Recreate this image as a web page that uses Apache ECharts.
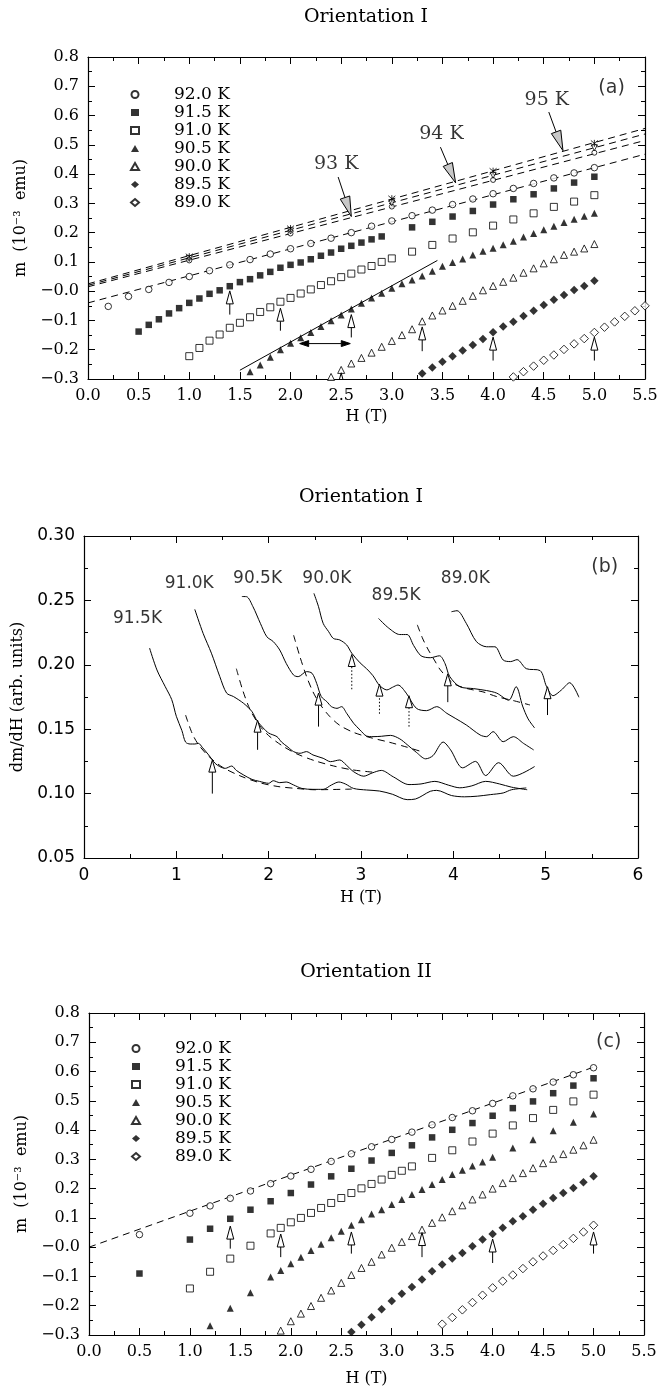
<!DOCTYPE html>
<html><head><meta charset="utf-8">
<script src="https://cdn.jsdelivr.net/npm/echarts@6/dist/echarts.min.js"></script>
<style>html,body{margin:0;padding:0;background:#fff}#c{width:667px;height:1391px}</style>
</head><body><div id="c"></div><script>
// ---------------- Panel (a): Orientation I, m vs H ----------------
const a92_0 = [[0.2,-0.052],[0.4,-0.018],[0.6,0.006],[0.8,0.030],[1.0,0.050],[1.2,0.070],[1.4,0.090],[1.6,0.108],[1.8,0.127],[2.0,0.145],[2.2,0.163],[2.4,0.181],[2.6,0.200],[2.8,0.222],[3.0,0.240],[3.2,0.258],[3.4,0.277],[3.6,0.296],[3.8,0.315],[4.0,0.333],[4.2,0.351],[4.4,0.368],[4.6,0.387],[4.8,0.404],[5.0,0.422]];
const a91_5 = [[0.5,-0.138],[0.6,-0.115],[0.7,-0.096],[0.8,-0.076],[0.9,-0.058],[1.0,-0.040],[1.1,-0.025],[1.2,-0.009],[1.3,0.003],[1.4,0.017],[1.5,0.031],[1.6,0.041],[1.7,0.054],[1.8,0.066],[1.9,0.080],[2.0,0.090],[2.1,0.098],[2.2,0.109],[2.3,0.121],[2.4,0.132],[2.5,0.145],[2.6,0.155],[2.7,0.166],[2.8,0.177],[2.9,0.187],[3.2,0.218],[3.4,0.237],[3.6,0.255],[3.8,0.274],[4.0,0.296],[4.2,0.314],[4.4,0.331],[4.6,0.351],[4.8,0.371],[5.0,0.391]];
const a91_0 = [[1.0,-0.222],[1.1,-0.194],[1.2,-0.169],[1.3,-0.148],[1.4,-0.125],[1.5,-0.108],[1.6,-0.089],[1.7,-0.071],[1.8,-0.055],[1.9,-0.036],[2.0,-0.023],[2.1,-0.008],[2.2,0.006],[2.3,0.021],[2.4,0.034],[2.5,0.048],[2.6,0.060],[2.7,0.074],[2.8,0.086],[2.9,0.100],[3.0,0.112],[3.2,0.135],[3.4,0.158],[3.6,0.180],[3.8,0.201],[4.0,0.224],[4.2,0.245],[4.4,0.266],[4.6,0.288],[4.8,0.306],[5.0,0.328]];
const a90_5 = [[1.6,-0.275],[1.7,-0.252],[1.8,-0.226],[1.9,-0.200],[2.0,-0.178],[2.1,-0.159],[2.2,-0.141],[2.3,-0.121],[2.4,-0.101],[2.5,-0.081],[2.6,-0.061],[2.7,-0.041],[2.8,-0.023],[2.9,-0.007],[3.0,0.010],[3.1,0.025],[3.2,0.038],[3.3,0.052],[3.4,0.068],[3.5,0.085],[3.6,0.098],[3.7,0.110],[3.8,0.124],[3.9,0.136],[4.0,0.147],[4.1,0.159],[4.2,0.171],[4.3,0.185],[4.4,0.197],[4.5,0.210],[4.6,0.222],[4.7,0.235],[4.8,0.246],[4.9,0.256],[5.0,0.266]];
const a90_0 = [[2.4,-0.293],[2.5,-0.269],[2.6,-0.247],[2.7,-0.228],[2.8,-0.210],[2.9,-0.190],[3.0,-0.170],[3.1,-0.150],[3.2,-0.130],[3.3,-0.103],[3.4,-0.083],[3.5,-0.066],[3.6,-0.050],[3.7,-0.033],[3.8,-0.016],[3.9,0.003],[4.0,0.018],[4.1,0.032],[4.2,0.046],[4.3,0.063],[4.4,0.078],[4.5,0.095],[4.6,0.109],[4.7,0.124],[4.8,0.135],[4.9,0.146],[5.0,0.161]];
const a89_5 = [[3.3,-0.281],[3.4,-0.261],[3.5,-0.241],[3.6,-0.222],[3.7,-0.203],[3.8,-0.184],[3.9,-0.163],[4.0,-0.140],[4.1,-0.121],[4.2,-0.104],[4.3,-0.085],[4.4,-0.067],[4.5,-0.047],[4.6,-0.029],[4.7,-0.013],[4.8,0.004],[4.9,0.018],[5.0,0.036]];
const a89_0 = [[4.2,-0.293],[4.3,-0.275],[4.4,-0.256],[4.5,-0.236],[4.6,-0.218],[4.7,-0.199],[4.8,-0.180],[4.9,-0.162],[5.0,-0.141],[5.1,-0.123],[5.2,-0.105],[5.3,-0.086],[5.4,-0.067],[5.5,-0.050]];
const a93 = [[1,0.105],[2,0.197],[3,0.289],[4,0.380],[5,0.473]];
const a94 = [[1,0.112],[2,0.206],[3,0.302],[4,0.396],[5,0.490]];
const a95 = [[1,0.118],[2,0.214],[3,0.316],[4,0.410],[5,0.505]];
const fitA92_0 = [[0,-0.040],[5.5,0.468]];
const fitA93 = [[0,0.015],[5.5,0.515]];
const fitA94 = [[0,0.020],[5.5,0.537]];
const fitA95 = [[0,0.025],[5.5,0.556]];
const slopeA90_5 = [[1.5,-0.270],[3.45,0.105]];
const arrowsA = [[1.4,-0.080,1.4,0.001],[1.9,-0.135,1.9,-0.058],[2.6,-0.158,2.6,-0.080],[3.3,-0.205,3.3,-0.122],[4.0,-0.237,4.0,-0.157],[5.0,-0.237,5.0,-0.157],[2.5,-0.360,2.5,-0.279]];
const arrowsATemp = [[2.47,0.390,2.60,0.255],[3.48,0.492,3.63,0.370],[4.55,0.612,4.69,0.480]];
const arrowADouble = [[2.09,-0.179,2.59,-0.179]];
const textsA = [[2.45,0.433,'93 K'],[3.49,0.537,'94 K'],[4.53,0.653,'95 K']];
const tagA = [[5.17,0.693,'(a)']];

// ---------------- Panel (b): Orientation I, dm/dH vs H ----------------
const b91_5 = [[0.71,0.213],[0.79,0.196],[0.88,0.183],[0.95,0.173],[1.00,0.160],[1.06,0.149],[1.10,0.140],[1.15,0.1385],[1.20,0.1385],[1.24,0.139],[1.28,0.136],[1.35,0.130],[1.42,0.1235],[1.47,0.121],[1.53,0.1196],[1.60,0.1214],[1.65,0.118],[1.73,0.1144],[1.82,0.111],[1.90,0.1095],[2.00,0.108],[2.05,0.110],[2.12,0.1085],[2.19,0.109],[2.27,0.1067],[2.36,0.104],[2.48,0.1033],[2.59,0.1033],[2.68,0.1067],[2.76,0.109],[2.83,0.1075],[2.92,0.104],[3.06,0.1028],[3.20,0.102],[3.34,0.0995],[3.50,0.0953],[3.59,0.0958],[3.75,0.1018],[3.82,0.1025],[3.98,0.0985],[4.12,0.0975],[4.26,0.098],[4.40,0.0992],[4.54,0.1005],[4.63,0.103],[4.79,0.1044]];
const b91_0 = [[1.20,0.243],[1.29,0.2244],[1.38,0.209],[1.47,0.191],[1.545,0.178],[1.62,0.1753],[1.73,0.170],[1.82,0.1636],[1.87,0.157],[1.94,0.151],[2.00,0.147],[2.09,0.1442],[2.14,0.140],[2.21,0.136],[2.27,0.1326],[2.34,0.1313],[2.41,0.1326],[2.48,0.130],[2.59,0.1274],[2.67,0.1248],[2.77,0.1261],[2.84,0.1222],[2.92,0.117],[3.03,0.1135],[3.12,0.116],[3.22,0.118],[3.35,0.113],[3.52,0.107],[3.65,0.1075],[3.80,0.1095],[3.95,0.1065],[4.07,0.1045],[4.20,0.106],[4.35,0.1095],[4.50,0.1075],[4.63,0.105],[4.80,0.103]];
const b90_5 = [[1.71,0.253],[1.76,0.2529],[1.83,0.2451],[1.91,0.2322],[1.98,0.2218],[2.05,0.218],[2.12,0.2115],[2.19,0.2011],[2.27,0.192],[2.32,0.1908],[2.41,0.1947],[2.47,0.1934],[2.52,0.1856],[2.57,0.1753],[2.63,0.1714],[2.68,0.1675],[2.74,0.1662],[2.79,0.1675],[2.845,0.1623],[2.92,0.1546],[2.99,0.1494],[3.06,0.1447],[3.13,0.1442],[3.22,0.1445],[3.32,0.1452],[3.42,0.1425],[3.50,0.138],[3.60,0.132],[3.70,0.127],[3.78,0.1295],[3.89,0.140],[3.97,0.134],[4.10,0.120],[4.24,0.125],[4.35,0.114],[4.49,0.124],[4.65,0.1135],[4.88,0.121]];
const b90_0 = [[2.49,0.2555],[2.54,0.2451],[2.59,0.2322],[2.65,0.2257],[2.70,0.2205],[2.77,0.2193],[2.845,0.2154],[2.90,0.209],[2.99,0.2015],[3.06,0.197],[3.13,0.1915],[3.20,0.184],[3.28,0.1805],[3.34,0.1825],[3.40,0.1843],[3.49,0.178],[3.60,0.1662],[3.71,0.1644],[3.82,0.1675],[3.93,0.1623],[4.02,0.1585],[4.14,0.1533],[4.29,0.1455],[4.36,0.1442],[4.43,0.1481],[4.54,0.1403],[4.65,0.1442],[4.76,0.139],[4.87,0.1339]];
const b89_5 = [[3.19,0.236],[3.30,0.2285],[3.42,0.2235],[3.50,0.2235],[3.57,0.215],[3.65,0.207],[3.75,0.2055],[3.85,0.207],[3.91,0.201],[3.96,0.191],[4.07,0.183],[4.22,0.1815],[4.36,0.180],[4.47,0.178],[4.60,0.1725],[4.68,0.183],[4.75,0.168],[4.81,0.158],[4.88,0.151]];
const b89_0 = [[3.98,0.2412],[4.04,0.242],[4.14,0.2322],[4.25,0.218],[4.36,0.214],[4.45,0.214],[4.54,0.2037],[4.62,0.2025],[4.69,0.204],[4.79,0.197],[4.94,0.1955],[5.01,0.183],[5.08,0.176],[5.17,0.1804],[5.26,0.1861],[5.36,0.1748]];
const fitB91_5 = [[1.10,0.161],[1.17,0.147],[1.24,0.138],[1.35,0.129],[1.50,0.1205],[1.70,0.1135],[1.90,0.1085],[2.10,0.1055],[2.30,0.104],[2.50,0.103],[2.90,0.1035]];
const fitB91_0 = [[1.65,0.197],[1.72,0.180],[1.80,0.165],[1.90,0.153],[2.00,0.145],[2.15,0.137],[2.30,0.131],[2.50,0.1255],[2.70,0.1215],[2.90,0.1185],[3.15,0.1165]];
const fitB90_5 = [[2.27,0.223],[2.34,0.206],[2.41,0.191],[2.48,0.179],[2.56,0.169],[2.66,0.160],[2.77,0.153],[2.92,0.1475],[3.10,0.1435],[3.30,0.140],[3.50,0.136],[3.66,0.1325]];
const fitB89_5 = [[3.61,0.231],[3.67,0.220],[3.73,0.2115],[3.80,0.203],[3.86,0.196],[4.00,0.1856],[4.14,0.1817],[4.32,0.179],[4.47,0.1753],[4.65,0.1722],[4.83,0.1688]];
const arrowsB = [[1.39,0.100,1.39,0.126],[1.88,0.134,1.88,0.157],[2.54,0.152,2.54,0.178],[3.94,0.171,3.94,0.193],[5.02,0.161,5.02,0.183]];
const arrowsBDotted = [[2.90,0.181,2.90,0.208],[3.20,0.162,3.20,0.185],[3.52,0.152,3.52,0.176]];
const textsB = [[0.58,0.236,'91.5K'],[1.14,0.2627,'91.0K'],[1.88,0.267,'90.5K'],[2.63,0.267,'90.0K'],[3.38,0.254,'89.5K'],[4.13,0.2666,'89.0K']];
const tagB = [[5.64,0.276,'(b)']];

// ---------------- Panel (c): Orientation II, m vs H ----------------
const c92_0 = [[0.5,0.043],[1.0,0.116],[1.2,0.141],[1.4,0.167],[1.6,0.192],[1.8,0.217],[2.0,0.243],[2.2,0.266],[2.4,0.293],[2.6,0.319],[2.8,0.343],[3.0,0.368],[3.2,0.393],[3.4,0.418],[3.6,0.443],[3.8,0.466],[4.0,0.491],[4.2,0.517],[4.4,0.541],[4.6,0.564],[4.8,0.589],[5.0,0.613]];
const c91_5 = [[0.5,-0.090],[1.0,0.026],[1.2,0.063],[1.4,0.097],[1.6,0.128],[1.8,0.157],[2.0,0.185],[2.2,0.214],[2.4,0.242],[2.6,0.268],[2.8,0.296],[3.0,0.322],[3.2,0.348],[3.4,0.375],[3.6,0.401],[3.8,0.424],[4.0,0.449],[4.2,0.475],[4.4,0.498],[4.6,0.526],[4.8,0.552],[5.0,0.577]];
const c91_0 = [[1.0,-0.141],[1.2,-0.084],[1.4,-0.039],[1.6,0.005],[1.8,0.047],[1.9,0.066],[2.0,0.085],[2.1,0.100],[2.2,0.117],[2.3,0.134],[2.4,0.151],[2.5,0.168],[2.6,0.185],[2.7,0.201],[2.8,0.216],[2.9,0.231],[3.0,0.247],[3.1,0.261],[3.2,0.276],[3.4,0.305],[3.6,0.331],[3.8,0.361],[4.0,0.388],[4.2,0.416],[4.4,0.441],[4.6,0.469],[4.8,0.498],[5.0,0.521]];
const c90_5 = [[1.2,-0.268],[1.4,-0.209],[1.6,-0.156],[1.8,-0.102],[1.9,-0.080],[2.0,-0.057],[2.1,-0.034],[2.2,-0.011],[2.3,0.010],[2.4,0.032],[2.5,0.054],[2.6,0.075],[2.7,0.094],[2.8,0.113],[2.9,0.128],[3.0,0.146],[3.1,0.163],[3.2,0.180],[3.3,0.197],[3.4,0.214],[3.5,0.231],[3.6,0.248],[3.7,0.263],[3.8,0.277],[3.9,0.291],[4.0,0.307],[4.2,0.339],[4.4,0.367],[4.6,0.398],[4.8,0.427],[5.0,0.455]];
const c90_0 = [[1.9,-0.285],[2.0,-0.253],[2.1,-0.227],[2.2,-0.201],[2.3,-0.173],[2.4,-0.148],[2.5,-0.122],[2.6,-0.095],[2.7,-0.071],[2.8,-0.050],[2.9,-0.025],[3.0,-0.002],[3.1,0.018],[3.2,0.038],[3.3,0.060],[3.4,0.083],[3.5,0.102],[3.6,0.123],[3.7,0.143],[3.8,0.163],[3.9,0.180],[4.0,0.200],[4.1,0.219],[4.2,0.236],[4.3,0.253],[4.4,0.270],[4.5,0.287],[4.6,0.302],[4.7,0.318],[4.8,0.333],[4.9,0.348],[5.0,0.367]];
const c89_5 = [[2.6,-0.290],[2.7,-0.265],[2.8,-0.239],[2.9,-0.212],[3.0,-0.184],[3.1,-0.159],[3.2,-0.136],[3.3,-0.110],[3.4,-0.082],[3.5,-0.059],[3.6,-0.039],[3.7,-0.020],[3.8,0.003],[3.9,0.026],[4.0,0.045],[4.1,0.066],[4.2,0.089],[4.3,0.106],[4.4,0.128],[4.5,0.148],[4.6,0.168],[4.7,0.185],[4.8,0.202],[4.9,0.222],[5.0,0.242]];
const c89_0 = [[3.5,-0.263],[3.6,-0.240],[3.7,-0.214],[3.8,-0.189],[3.9,-0.164],[4.0,-0.139],[4.1,-0.116],[4.2,-0.095],[4.3,-0.073],[4.4,-0.050],[4.5,-0.030],[4.6,-0.011],[4.7,0.009],[4.8,0.030],[4.9,0.052],[5.0,0.075]];
const fitC92_0 = [[0,0.000],[5.0,0.615]];
const arrowsC = [[1.4,-0.005,1.4,0.072],[1.9,-0.034,1.9,0.045],[2.6,-0.022,2.6,0.052],[3.3,-0.034,3.3,0.050],[4.0,-0.054,4.0,0.028],[5.0,-0.022,5.0,0.052]];
const tagC = [[5.15,0.700,'(c)']];

// ---------------- labels ----------------
const legendNames = ['92.0 K','91.5 K','91.0 K','90.5 K','90.0 K','89.5 K','89.0 K'];
const titles = ['Orientation I','Orientation I','Orientation II'];

// ---------------- styling ----------------
const SERIF = "'DejaVu Serif', serif";
const SANS = "'DejaVu Sans', sans-serif";
const OPEN = {color:'#fff', borderColor:'#000', borderWidth:1};
const FILL = {color:'#000', borderWidth:0};
const markerStyle = {
  '92.0 K': {symbol:'circle', size:6.5, style:OPEN},
  '91.5 K': {symbol:'rect', size:6.5, style:FILL},
  '91.0 K': {symbol:'rect', size:7, style:OPEN},
  '90.5 K': {symbol:'triangle', size:7, style:FILL},
  '90.0 K': {symbol:'triangle', size:7, style:OPEN},
  '89.5 K': {symbol:'diamond', size:8.5, style:FILL},
  '89.0 K': {symbol:'diamond', size:8.5, style:OPEN}
};

const grids = [
  {left:88, top:57, width:557, height:322},
  {left:84, top:536, width:554, height:322},
  {left:89, top:1013, width:555, height:322}
];

const fmtM = v => { const r = Math.round(v*10)/10; if (Math.abs(r) < 1e-9) return '\u22120.0'; return r < 0 ? '\u2212' + Math.abs(r).toFixed(1) : r.toFixed(1); };
const fmtH1 = v => (Math.round(v*10)/10).toFixed(1);
const fmtB = v => (Math.round(v*100)/100).toFixed(2);
const fmtInt = v => String(Math.round(v));

const AX = {color:'#000', width:1.2};
function xAxes(gi, min, max, interval, fmt, font, fsize, nameGap) {
  const base = {type:'value', gridIndex:gi, min, max, interval,
    axisLine:{show:true, onZero:false, lineStyle:AX},
    axisTick:{show:true, inside:true, length:7, lineStyle:{color:'#000', width:1}},
    minorTick:{show:true, splitNumber:2, length:4, lineStyle:{color:'#000', width:1}},
    splitLine:{show:false}, minorSplitLine:{show:false}};
  return [
    Object.assign({}, base, {position:'bottom',
      axisLabel:{show:true, margin:9, color:'#000', fontFamily:font, fontSize:fsize, formatter:fmt},
      name:'H (T)', nameLocation:'middle', nameGap,
      nameTextStyle:{color:'#000', fontFamily:SERIF, fontSize:16}}),
    Object.assign({}, base, {position:'top', axisLabel:{show:false}})
  ];
}
function yAxes(gi, min, max, interval, fmt, font, fsize, name, nameGap, nameSize) {
  const base = {type:'value', gridIndex:gi, min, max, interval,
    axisLine:{show:true, onZero:false, lineStyle:AX},
    axisTick:{show:true, inside:true, length:7, lineStyle:{color:'#000', width:1}},
    minorTick:{show:true, splitNumber:2, length:4, lineStyle:{color:'#000', width:1}},
    splitLine:{show:false}, minorSplitLine:{show:false}};
  return [
    Object.assign({}, base, {position:'left',
      axisLabel:{show:true, margin:9, color:'#000', fontFamily:font, fontSize:fsize, formatter:fmt},
      name, nameLocation:'middle', nameGap,
      nameTextStyle:{color:'#000', fontFamily:SERIF, fontSize:nameSize}}),
    Object.assign({}, base, {position:'right', axisLabel:{show:false}})
  ];
}

function scat(name, data, gi) {
  const m = markerStyle[name];
  return {type:'scatter', name, data, xAxisIndex:gi*2, yAxisIndex:gi*2,
    symbol:m.symbol, symbolSize:m.size, itemStyle:m.style, z:4, silent:true};
}
function extraPts(data, symbol, size, style, rotate) {
  return {type:'scatter', data, xAxisIndex:0, yAxisIndex:0, symbol, symbolSize:size, symbolRotate:rotate||0, itemStyle:style, z:4, silent:true};
}
function line(data, gi, dash, smooth) {
  return {type:'line', data, xAxisIndex:gi*2, yAxisIndex:gi*2, symbol:'none', smooth:smooth||false,
    lineStyle:{color:'#000', width:1, type:dash||'solid'}, z:2, silent:true};
}
function texts(items, gi, font, size) {
  return {type:'scatter', xAxisIndex:gi*2, yAxisIndex:gi*2, symbolSize:1, itemStyle:{color:'rgba(0,0,0,0)'},
    data: items.map(t => ({value:[t[0], t[1]], name:t[2]})), z:6, silent:true, clip:false,
    label:{show:true, position:'inside', formatter:'{b}', color:'#000', fontFamily:font, fontSize:size}};
}
function arrows(data, gi, o) {
  return {type:'custom', xAxisIndex:gi*2, yAxisIndex:gi*2, data, clip:true, silent:true, z:5,
    renderItem(params, api) {
      const p0 = api.coord([api.value(0), api.value(1)]);
      const p1 = api.coord([api.value(2), api.value(3)]);
      const dx = p1[0]-p0[0], dy = p1[1]-p0[1];
      const L = Math.hypot(dx, dy) || 1;
      const ux = dx/L, uy = dy/L;
      const head = (tip, sx, sy) => {
        const bx = tip[0]-sx*o.hl, by = tip[1]-sy*o.hl;
        return {base:[bx,by], pts:[[tip[0],tip[1]],[bx - sy*o.hw, by + sx*o.hw],[bx + sy*o.hw, by - sx*o.hw]]};
      };
      const h1 = head(p1, ux, uy);
      let start = p0, h0 = null;
      if (o.double) { h0 = head(p0, -ux, -uy); start = h0.base; }
      const children = [
        {type:'line', shape:{x1:start[0], y1:start[1], x2:h1.base[0], y2:h1.base[1]},
          style:{stroke:'#000', lineWidth:1, lineDash:o.dotted ? [1.5,2] : null}},
        {type:'polygon', shape:{points:h1.pts}, style:{fill:o.fill, stroke:'#000', lineWidth:1}}
      ];
      if (h0) children.push({type:'polygon', shape:{points:h0.pts}, style:{fill:o.fill, stroke:'#000', lineWidth:1}});
      return {type:'group', children};
    }};
}

const DASH_A = [7,5];
const series = [
  // panel a
  line(fitA92_0, 0, DASH_A), line(fitA93, 0, DASH_A), line(fitA94, 0, DASH_A), line(fitA95, 0, DASH_A),
  line(slopeA90_5, 0, 'solid'),
  scat('92.0 K', a92_0, 0), scat('91.5 K', a91_5, 0), scat('91.0 K', a91_0, 0), scat('90.5 K', a90_5, 0),
  scat('90.0 K', a90_0, 0), scat('89.5 K', a89_5, 0), scat('89.0 K', a89_0, 0),
  extraPts(a93, 'circle', 5, OPEN),
  extraPts(a94, 'triangle', 6, OPEN, 180),
  extraPts(a95, 'path://M0,0L10,10M10,0L0,10M5,-1L5,11', 7, {color:'none', borderColor:'#000', borderWidth:1}),
  arrows(arrowsA, 0, {hl:13, hw:3.5, fill:'#fff'}),
  arrows(arrowsATemp, 0, {hl:20, hw:5, fill:'#c8c8c8'}),
  arrows(arrowADouble, 0, {hl:9, hw:3, fill:'#000', double:true}),
  texts(textsA, 0, SERIF, 19),
  texts(tagA, 0, SANS, 19),
  // panel b
  line(b91_5, 1, 'solid', 0.3), line(b91_0, 1, 'solid', 0.3), line(b90_5, 1, 'solid', 0.3),
  line(b90_0, 1, 'solid', 0.3), line(b89_5, 1, 'solid', 0.3), line(b89_0, 1, 'solid', 0.3),
  line(fitB91_5, 1, [7,5], 0.3), line(fitB91_0, 1, [7,5], 0.3), line(fitB90_5, 1, [7,5], 0.3), line(fitB89_5, 1, [7,5], 0.3),
  arrows(arrowsB, 1, {hl:12, hw:3.5, fill:'#fff'}),
  arrows(arrowsBDotted, 1, {hl:12, hw:3.5, fill:'#fff', dotted:true}),
  texts(textsB, 1, SANS, 17),
  texts(tagB, 1, SANS, 19),
  // panel c
  line(fitC92_0, 2, DASH_A),
  scat('92.0 K', c92_0, 2), scat('91.5 K', c91_5, 2), scat('91.0 K', c91_0, 2), scat('90.5 K', c90_5, 2),
  scat('90.0 K', c90_0, 2), scat('89.5 K', c89_5, 2), scat('89.0 K', c89_0, 2),
  arrows(arrowsC, 2, {hl:13, hw:3.5, fill:'#fff'}),
  texts(tagC, 2, SANS, 19)
];

const legendBase = {orient:'vertical', padding:0, itemWidth:8, itemHeight:7, itemGap:1,
  symbolKeepAspect:true, selectedMode:false, data:legendNames,
  textStyle:{color:'#000', fontFamily:SERIF, fontSize:17, lineHeight:17, padding:[0,0,0,30]}};

const option = {
  animation:false,
  backgroundColor:'#fff',
  grid: grids,
  xAxis: [].concat(
    xAxes(0, 0, 5.5, 0.5, fmtH1, SERIF, 16, 30),
    xAxes(1, 0, 6, 1, fmtInt, SANS, 17, 32),
    xAxes(2, 0, 5.5, 0.5, fmtH1, SERIF, 16, 36)),
  yAxis: [].concat(
    yAxes(0, -0.3, 0.8, 0.1, fmtM, SERIF, 16, 'm  (10\u207B\u00B3  emu)', 56, 16),
    yAxes(1, 0.05, 0.30, 0.05, fmtB, SANS, 17, 'dm/dH (arb. units)', 52, 16),
    yAxes(2, -0.3, 0.8, 0.1, fmtM, SERIF, 16, 'm  (10\u207B\u00B3  emu)', 57, 16)),
  legend: [
    Object.assign({}, legendBase, {left:130, top:86}),
    Object.assign({}, legendBase, {left:131, top:1040})
  ],
  graphic: [
    {type:'text', x:366, y:17, style:{text:titles[0], fill:'#000', font:"19px 'DejaVu Serif'", align:'center', verticalAlign:'middle', textAlign:'center', textVerticalAlign:'middle'}},
    {type:'text', x:361, y:497, style:{text:titles[1], fill:'#000', font:"19px 'DejaVu Serif'", align:'center', verticalAlign:'middle', textAlign:'center', textVerticalAlign:'middle'}},
    {type:'text', x:366, y:972, style:{text:titles[2], fill:'#000', font:"19px 'DejaVu Serif'", align:'center', verticalAlign:'middle', textAlign:'center', textVerticalAlign:'middle'}}
  ],
  series
};
const chart = echarts.init(document.getElementById('c'), null, {renderer:'canvas', width:667, height:1391});
chart.setOption(option);
</script></body></html>
